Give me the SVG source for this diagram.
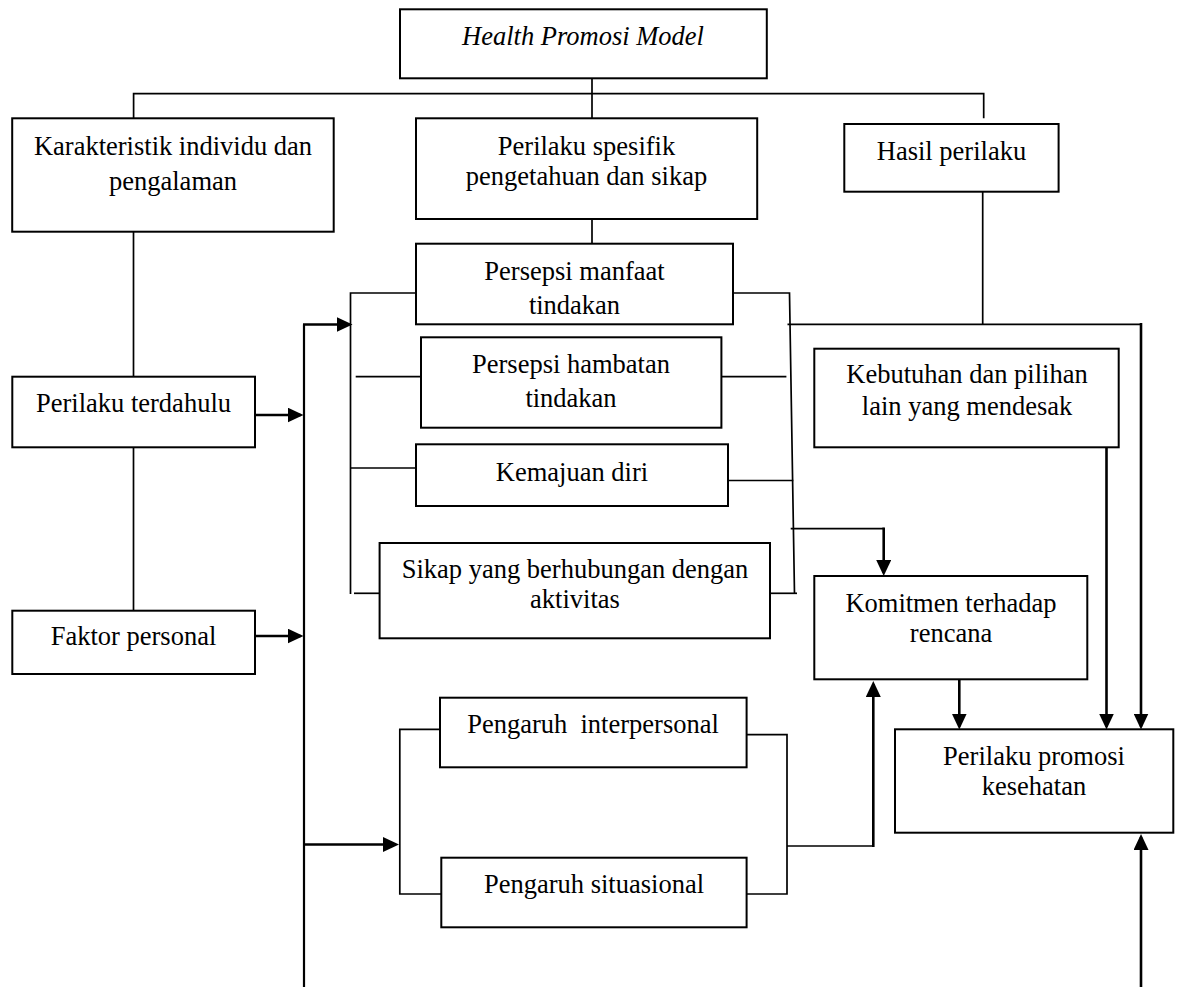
<svg xmlns="http://www.w3.org/2000/svg" width="1178" height="987" viewBox="0 0 1178 987">
<style>
.box{fill:#fff;stroke:#000;stroke-width:2}
.t{font-family:"Liberation Serif","Times New Roman",serif;font-size:26.5px;fill:#000;text-anchor:middle;white-space:pre}
.it{font-style:italic}
.ln{fill:none;stroke:#000;stroke-width:1.7}
.ar{fill:none;stroke:#000;stroke-width:2.6}
</style>
<defs>
<marker id="ah" markerUnits="userSpaceOnUse" markerWidth="16" markerHeight="15" refX="13" refY="7.5" orient="auto" viewBox="0 0 16 15">
<path d="M0,0 L16,7.5 L0,15 z" fill="#000"/>
</marker>
</defs>
<rect width="1178" height="987" fill="#fff"/>
<g id="connectors">
<path class="ln" d="M592,78 V118.3"/>
<path class="ln" d="M133.6,118.3 V93.7 H983.7 V118.3"/>
<path class="ln" d="M133.5,231.7 V376.7"/>
<path class="ln" d="M133.5,447.3 V610.7"/>
<path class="ln" d="M592,219 V243.7"/>
<path class="ln" d="M416,293 H350.5 V594"/>
<path class="ln" d="M355.7,376.7 H421"/>
<path class="ln" d="M350.5,468 H416"/>
<path class="ln" d="M354,593.3 H379.6"/>
<path class="ln" d="M733,293 H789.5 L794.5,594"/>
<path class="ln" d="M721.4,376.7 H786.4"/>
<path class="ln" d="M728,480.5 H793.3"/>
<path class="ln" d="M770,593.3 H797"/>
<path class="ln" d="M787.5,324.3 H1141"/>
<path class="ln" d="M982.7,191.7 V324.3"/>
<path class="ln" d="M790.7,528.7 H883.7"/>
<path class="ar" d="M883.7,527.5 V573" marker-end="url(#ah)"/>
<path class="ln" d="M440,729.3 H399.8 V894 H441.3"/>
<path class="ln" d="M746.6,734.7 H787 V894 H746.6"/>
<path class="ln" d="M787,846 H873.3"/>
<path class="ln" d="M304,324.5 V987" style="stroke-width:2.2"/>
<path class="ar" d="M255,415 H300.5" marker-end="url(#ah)"/>
<path class="ar" d="M255,636 H300.5" marker-end="url(#ah)"/>
<path class="ar" d="M303,324.5 H349.5" marker-end="url(#ah)"/>
<path class="ar" d="M304,844.5 H396" marker-end="url(#ah)"/>
<path class="ar" d="M873.3,847 V684" marker-end="url(#ah)"/>
<path class="ar" d="M959.3,679.3 V726.5" marker-end="url(#ah)"/>
<path class="ar" d="M1106.5,445 V726.5" marker-end="url(#ah)"/>
<path class="ar" d="M1141,323 V726.5" marker-end="url(#ah)"/>
<path class="ar" d="M1141,987 V837" marker-end="url(#ah)"/>
</g>
<g id="health-promosi-model">
<rect class="box" x="400" y="9.3" width="366.8" height="69"/>
<text class="t it" x="583" y="45">Health Promosi Model</text>
</g>
<g id="karakteristik">
<rect class="box" x="12.2" y="118.3" width="321.5" height="113.4"/>
<text class="t" x="173" y="155">Karakteristik individu dan</text>
<text class="t" x="173" y="190">pengalaman</text>
</g>
<g id="perilaku-spesifik">
<rect class="box" x="416" y="118.3" width="341.2" height="100.7"/>
<text class="t" x="586.5" y="155">Perilaku spesifik</text>
<text class="t" x="586.5" y="185">pengetahuan dan sikap</text>
</g>
<g id="hasil-perilaku">
<rect class="box" x="844.3" y="124" width="214.3" height="67.7"/>
<text class="t" x="951.5" y="160">Hasil perilaku</text>
</g>
<g id="persepsi-manfaat">
<rect class="box" x="416" y="243.7" width="317" height="80.6"/>
<text class="t" x="574.5" y="280">Persepsi manfaat</text>
<text class="t" x="574.5" y="314">tindakan</text>
</g>
<g id="persepsi-hambatan">
<rect class="box" x="421" y="337.3" width="300.4" height="90.4"/>
<text class="t" x="571" y="373">Persepsi hambatan</text>
<text class="t" x="571" y="407">tindakan</text>
</g>
<g id="kemajuan-diri">
<rect class="box" x="416" y="444.3" width="312" height="61.7"/>
<text class="t" x="572" y="481">Kemajuan diri</text>
</g>
<g id="sikap">
<rect class="box" x="379.6" y="543" width="390.4" height="95.3"/>
<text class="t" x="575" y="578">Sikap yang berhubungan dengan</text>
<text class="t" x="575" y="608">aktivitas</text>
</g>
<g id="kebutuhan">
<rect class="box" x="814.3" y="348.7" width="304.4" height="98.6"/>
<text class="t" x="967" y="383">Kebutuhan dan pilihan</text>
<text class="t" x="967" y="415">lain yang mendesak</text>
</g>
<g id="komitmen">
<rect class="box" x="814.3" y="576" width="273" height="103.3"/>
<text class="t" x="951" y="612">Komitmen terhadap</text>
<text class="t" x="951" y="642">rencana</text>
</g>
<g id="perilaku-terdahulu">
<rect class="box" x="12.3" y="376.7" width="242.7" height="70.6"/>
<text class="t" x="133.5" y="412">Perilaku terdahulu</text>
</g>
<g id="faktor-personal">
<rect class="box" x="12.3" y="610.7" width="242.7" height="63.3"/>
<text class="t" x="133.5" y="645">Faktor personal</text>
</g>
<g id="pengaruh-interpersonal">
<rect class="box" x="440" y="697.7" width="306.6" height="69.6"/>
<text class="t" x="593" y="733">Pengaruh  interpersonal</text>
</g>
<g id="pengaruh-situasional">
<rect class="box" x="441.3" y="857.7" width="305.3" height="69.6"/>
<text class="t" x="594" y="893">Pengaruh situasional</text>
</g>
<g id="perilaku-promosi">
<rect class="box" x="895" y="729.3" width="278.3" height="103.4"/>
<text class="t" x="1034" y="765">Perilaku promosi</text>
<text class="t" x="1034" y="795">kesehatan</text>
</g>
</svg>
